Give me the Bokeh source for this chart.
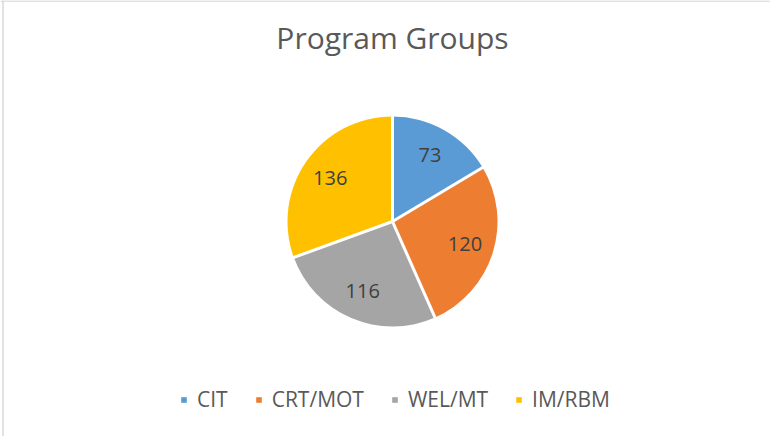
import math
from bokeh.plotting import figure
from bokeh.models import Range1d, ColumnDataSource, Legend, LegendItem, Label, Span
from bokeh.embed import file_html
from bokeh.resources import INLINE

# data
categories = ["CIT", "CRT/MOT", "WEL/MT", "IM/RBM"]
values = [73, 120, 116, 136]
colors = ["#5B9BD5", "#ED7D31", "#A5A5A5", "#FFC000"]
title_text = "Program Groups"

W, H = 770, 436
FONT = "Open Sans"

p = figure(width=W, height=H, output_backend="svg", toolbar_location=None,
           x_range=Range1d(0, W), y_range=Range1d(0, H), min_border=0)
p.axis.visible = False
p.grid.visible = False
p.outline_line_color = None
p.background_fill_color = "white"
p.border_fill_color = "white"

# chart border (top and left visible, rest off-canvas)
p.add_layout(Span(location=H - 0.5, dimension="width", line_color="#D9D9D9", line_width=1.5))
p.add_layout(Span(location=2.5, dimension="height", line_color="#D9D9D9", line_width=1.5))

cx, cy, r = 392, 215, 105
total = sum(values)
starts, ends, mids = [], [], []
acc = 0
for v in values:
    a0 = math.pi / 2 - 2 * math.pi * acc / total
    acc += v
    a1 = math.pi / 2 - 2 * math.pi * acc / total
    starts.append(a0)
    ends.append(a1)
    mids.append((a0 + a1) / 2)

src = ColumnDataSource(dict(cat=categories, val=values, color=colors,
                            start=starts, end=ends,
                            x=[cx] * len(values), y=[cy] * len(values)))
wed = p.wedge(x="x", y="y", radius=r, start_angle="start", end_angle="end",
              direction="clock", fill_color="color", line_color=None, source=src)

# white separators
p.segment(x0=[cx] * len(starts), y0=[cy] * len(starts),
          x1=[cx + r * 1.02 * math.cos(a) for a in starts],
          y1=[cy + r * 1.02 * math.sin(a) for a in starts],
          line_color="white", line_width=3)

# data labels
lr = 76
p.text(x=[cx + lr * math.cos(m) for m in mids], y=[cy + lr * math.sin(m) for m in mids],
       text=[str(v) for v in values], text_align="center", text_baseline="middle",
       text_font_size="20px", text_color="#404040", text_font={"value": FONT})

# title
p.add_layout(Label(x=392, y=399, text=title_text, text_align="center",
                   text_baseline="middle", text_font_size="30px",
                   text_color="#595959", text_font=FONT))

legend = Legend(items=[LegendItem(label=c, renderers=[wed], index=i) for i, c in enumerate(categories)],
                orientation="horizontal", location=(180, 23),
                glyph_width=7, glyph_height=7, label_standoff=10, spacing=27,
                label_text_font_size="21px", label_text_color="#595959",
                label_text_font=FONT, label_height=21,
                padding=0, margin=0, border_line_color=None, background_fill_alpha=0)
p.add_layout(legend)

open("out.html", "w").write(file_html(p, INLINE))
